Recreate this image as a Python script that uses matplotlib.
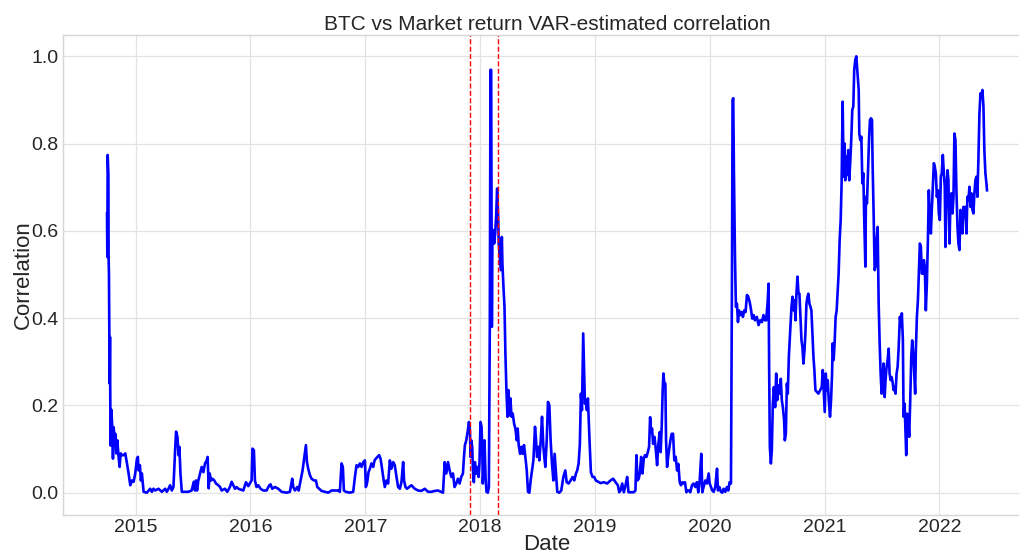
import matplotlib
matplotlib.use("Agg")
import matplotlib.pyplot as plt
import matplotlib.dates as mdates
import pandas as pd

# Data (date as decimal year, correlation value)
date_years = [
    2014.751, 2014.754, 2014.757, 2014.763, 2014.765, 2014.768, 2014.774, 2014.777, 2014.780, 2014.783,
    2014.789, 2014.797, 2014.803, 2014.809, 2014.818, 2014.823, 2014.832, 2014.841, 2014.852, 2014.861,
    2014.870, 2014.881, 2014.896, 2014.910, 2014.925, 2014.939, 2014.954, 2014.968, 2014.983, 2014.997,
    2015.012, 2015.020, 2015.026, 2015.038, 2015.046, 2015.055, 2015.070, 2015.098, 2015.127, 2015.142,
    2015.156, 2015.171, 2015.200, 2015.229, 2015.258, 2015.272, 2015.287, 2015.301, 2015.316, 2015.330,
    2015.345, 2015.353, 2015.365, 2015.374, 2015.382, 2015.391, 2015.403, 2015.432, 2015.460, 2015.489,
    2015.507, 2015.518, 2015.527, 2015.536, 2015.547, 2015.562, 2015.576, 2015.591, 2015.605, 2015.620,
    2015.628, 2015.637, 2015.646, 2015.657, 2015.669, 2015.686, 2015.701, 2015.721, 2015.736, 2015.750,
    2015.779, 2015.799, 2015.822, 2015.837, 2015.851, 2015.866, 2015.880, 2015.895,
    2015.939, 2015.962, 2015.982, 2016.011, 2016.019, 2016.031, 2016.040, 2016.054, 2016.069, 2016.089,
    2016.112, 2016.141, 2016.165, 2016.176, 2016.190, 2016.214, 2016.243, 2016.272, 2016.315, 2016.344,
    2016.364, 2016.373, 2016.388, 2016.408, 2016.420, 2016.437, 2016.454, 2016.469, 2016.483, 2016.492,
    2016.503, 2016.518, 2016.532, 2016.553, 2016.570, 2016.582, 2016.599, 2016.619, 2016.648, 2016.677,
    2016.706, 2016.735, 2016.764, 2016.778, 2016.793, 2016.804, 2016.813, 2016.830, 2016.865, 2016.894,
    2016.909, 2016.923, 2016.938, 2016.952, 2016.967, 2016.981, 2016.996, 2017.004, 2017.016, 2017.027,
    2017.039, 2017.053, 2017.068, 2017.080, 2017.091, 2017.106, 2017.120, 2017.132, 2017.143, 2017.155,
    2017.169, 2017.184, 2017.198, 2017.213, 2017.227, 2017.242, 2017.256, 2017.271, 2017.285, 2017.300,
    2017.314, 2017.329, 2017.337, 2017.349, 2017.363, 2017.381, 2017.401, 2017.430, 2017.459, 2017.488,
    2017.517, 2017.546, 2017.575, 2017.604, 2017.633,
    2017.676, 2017.691, 2017.705, 2017.720, 2017.734, 2017.749, 2017.763, 2017.777, 2017.792, 2017.806,
    2017.821, 2017.835, 2017.850, 2017.859, 2017.867, 2017.879, 2017.893, 2017.902, 2017.911, 2017.916,
    2017.922, 2017.931, 2017.937, 2017.945, 2017.954, 2017.966, 2017.974, 2017.986, 2017.994, 2018.003,
    2018.012, 2018.018, 2018.023, 2018.029, 2018.038, 2018.047, 2018.055, 2018.067, 2018.076, 2018.084,
    2018.090, 2018.096, 2018.102, 2018.107, 2018.113, 2018.122, 2018.131, 2018.139, 2018.148, 2018.157,
    2018.162, 2018.171, 2018.180, 2018.189, 2018.194, 2018.203, 2018.212, 2018.220, 2018.229, 2018.238,
    2018.247, 2018.255, 2018.264, 2018.273, 2018.284, 2018.296, 2018.307, 2018.319, 2018.327, 2018.336,
    2018.348, 2018.359, 2018.371, 2018.382, 2018.394, 2018.406, 2018.417, 2018.429, 2018.440, 2018.452,
    2018.464, 2018.478, 2018.487, 2018.496, 2018.507, 2018.516, 2018.528, 2018.539, 2018.551, 2018.559,
    2018.568, 2018.580, 2018.591, 2018.603, 2018.614, 2018.626, 2018.638, 2018.649, 2018.661, 2018.672,
    2018.690, 2018.707, 2018.725, 2018.742, 2018.754, 2018.771, 2018.788, 2018.806, 2018.820, 2018.835,
    2018.846, 2018.858, 2018.869, 2018.878, 2018.887, 2018.898, 2018.907, 2018.913, 2018.921, 2018.930,
    2018.939, 2018.944, 2018.953, 2018.965, 2018.979, 2018.994, 2019.008,
    2019.049, 2019.078, 2019.107, 2019.136, 2019.159, 2019.180, 2019.200, 2019.212, 2019.223, 2019.238,
    2019.252, 2019.267, 2019.281, 2019.293, 2019.310, 2019.339, 2019.353, 2019.362, 2019.371, 2019.382,
    2019.391, 2019.403, 2019.414, 2019.426, 2019.437, 2019.449, 2019.461, 2019.472, 2019.481, 2019.490,
    2019.498, 2019.507, 2019.519, 2019.530, 2019.542, 2019.553, 2019.565, 2019.573, 2019.582, 2019.591,
    2019.597, 2019.605, 2019.614, 2019.620, 2019.629, 2019.638, 2019.646, 2019.658, 2019.669, 2019.681,
    2019.692, 2019.704, 2019.716, 2019.727, 2019.739, 2019.750, 2019.762, 2019.773, 2019.785, 2019.797,
    2019.808, 2019.820, 2019.831, 2019.846, 2019.860, 2019.875, 2019.889, 2019.901, 2019.912, 2019.927,
    2019.936, 2019.947, 2019.962, 2019.976, 2019.991,
    2020.000, 2020.012, 2020.023, 2020.035, 2020.049, 2020.064, 2020.072, 2020.084, 2020.098, 2020.110,
    2020.121, 2020.136, 2020.150, 2020.162, 2020.173, 2020.185, 2020.194, 2020.199, 2020.205, 2020.211,
    2020.220, 2020.228, 2020.237, 2020.246, 2020.254, 2020.266, 2020.277, 2020.289, 2020.301, 2020.312,
    2020.324, 2020.335, 2020.347, 2020.358, 2020.370, 2020.382, 2020.393, 2020.410, 2020.425, 2020.439,
    2020.454, 2020.468, 2020.480, 2020.491, 2020.503, 2020.512, 2020.517, 2020.523, 2020.532, 2020.540,
    2020.549, 2020.558, 2020.569, 2020.578, 2020.587, 2020.595, 2020.607, 2020.618, 2020.627, 2020.636,
    2020.647, 2020.653, 2020.662, 2020.671, 2020.679, 2020.688, 2020.699, 2020.711, 2020.720, 2020.728,
    2020.737, 2020.746, 2020.754, 2020.763, 2020.772, 2020.780, 2020.789, 2020.798, 2020.806, 2020.815,
    2020.824, 2020.832, 2020.841, 2020.850, 2020.858, 2020.867, 2020.876, 2020.884, 2020.893, 2020.902,
    2020.910, 2020.919, 2020.931, 2020.945, 2020.960, 2020.974, 2020.983, 2020.991, 2021.000, 2021.009,
    2021.017, 2021.026, 2021.035, 2021.046, 2021.055, 2021.064, 2021.069, 2021.078, 2021.087, 2021.095,
    2021.104, 2021.113, 2021.121, 2021.130, 2021.139, 2021.147, 2021.156, 2021.165, 2021.173, 2021.179,
    2021.188, 2021.197, 2021.205, 2021.214, 2021.223, 2021.231, 2021.240, 2021.249, 2021.257, 2021.266,
    2021.275,
    2021.296, 2021.301, 2021.310, 2021.319, 2021.328, 2021.336, 2021.345, 2021.354, 2021.359, 2021.368,
    2021.377, 2021.386, 2021.394, 2021.403, 2021.412, 2021.417, 2021.426, 2021.435, 2021.443, 2021.452,
    2021.461, 2021.470, 2021.478, 2021.487, 2021.496, 2021.504, 2021.513, 2021.522, 2021.530, 2021.539,
    2021.548, 2021.557, 2021.565, 2021.574, 2021.583, 2021.591, 2021.600, 2021.609, 2021.617, 2021.626,
    2021.635, 2021.643, 2021.655, 2021.664, 2021.672, 2021.681, 2021.687, 2021.696, 2021.704, 2021.710,
    2021.719, 2021.728, 2021.736, 2021.745, 2021.754, 2021.762, 2021.771, 2021.780, 2021.788, 2021.794,
    2021.803, 2021.812, 2021.820, 2021.829, 2021.838, 2021.846, 2021.855, 2021.864, 2021.872, 2021.881,
    2021.890, 2021.899, 2021.907, 2021.916, 2021.925, 2021.933, 2021.942, 2021.951, 2021.959, 2021.968,
    2021.977, 2021.986, 2021.994, 2022.003, 2022.012, 2022.020, 2022.029, 2022.038, 2022.046, 2022.052,
    2022.061, 2022.070, 2022.078, 2022.087, 2022.096, 2022.104, 2022.113, 2022.122, 2022.130, 2022.139,
    2022.148, 2022.157, 2022.165, 2022.174, 2022.183, 2022.191, 2022.200, 2022.209, 2022.217, 2022.226,
    2022.235, 2022.243, 2022.252, 2022.261, 2022.270, 2022.278, 2022.287, 2022.296, 2022.304, 2022.313,
    2022.322, 2022.330, 2022.339, 2022.348, 2022.357, 2022.365, 2022.374, 2022.383, 2022.391, 2022.400,
    2022.409, 2022.414,
]

correlation = [
    0.640, 0.540, 0.774, 0.730, 0.540, 0.500, 0.250, 0.357, 0.196, 0.108,
    0.190, 0.150, 0.078, 0.150, 0.120, 0.135, 0.090, 0.120, 0.082, 0.059,
    0.090, 0.086, 0.086, 0.090, 0.067, 0.044, 0.017, 0.028, 0.025, 0.044,
    0.078, 0.082, 0.051, 0.063, 0.028, 0.044, 0.002, 0.000, 0.009, 0.002,
    0.009, 0.005, 0.009, 0.002, 0.009, 0.002, 0.009, 0.017, 0.005, 0.013,
    0.100, 0.140, 0.128, 0.086, 0.105, 0.044, 0.002, 0.002, 0.002, 0.005,
    0.025, 0.005, 0.028, 0.005, 0.028, 0.044, 0.059, 0.047, 0.067, 0.074,
    0.082, 0.010, 0.044, 0.028, 0.032, 0.028, 0.021, 0.017, 0.013, 0.005,
    0.009, 0.002, 0.013, 0.025, 0.017, 0.009, 0.013, 0.009,
    0.005, 0.024, 0.015, 0.028, 0.101, 0.097, 0.028, 0.013, 0.017, 0.009,
    0.005, 0.005, 0.017, 0.019, 0.009, 0.013, 0.009, 0.002, 0.000, 0.002,
    0.032, 0.013, 0.005, 0.013, 0.005, 0.028, 0.051, 0.082, 0.109, 0.070,
    0.055, 0.040, 0.032, 0.028, 0.028, 0.013, 0.009, 0.004, 0.002, 0.000,
    0.005, 0.005, 0.005, 0.002, 0.067, 0.059, 0.005, 0.002, 0.000, 0.002,
    0.036, 0.063, 0.059, 0.067, 0.059, 0.070, 0.074, 0.013, 0.024, 0.047,
    0.055, 0.067, 0.059, 0.074, 0.078, 0.082, 0.086, 0.078, 0.059, 0.036,
    0.013, 0.028, 0.021, 0.074, 0.055, 0.070, 0.063, 0.036, 0.013, 0.009,
    0.024, 0.070, 0.028, 0.013, 0.009, 0.013, 0.017, 0.009, 0.005, 0.004,
    0.009, 0.002, 0.002, 0.004, 0.005,
    0.000, 0.070, 0.044, 0.070, 0.051, 0.036, 0.044, 0.013, 0.021, 0.032,
    0.021, 0.036, 0.044, 0.082, 0.109, 0.120, 0.143, 0.162, 0.143, 0.082,
    0.120, 0.105, 0.051, 0.024, 0.070, 0.044, 0.059, 0.036, 0.067, 0.162,
    0.151, 0.105, 0.021, 0.051, 0.120, 0.036, 0.002, 0.000, 0.013, 0.380,
    0.969, 0.969, 0.380, 0.594, 0.602, 0.571, 0.594, 0.632, 0.697, 0.632,
    0.571, 0.541, 0.510, 0.586, 0.525, 0.472, 0.426, 0.319, 0.235, 0.174,
    0.235, 0.177, 0.216, 0.174, 0.181, 0.158, 0.147, 0.120, 0.147, 0.109,
    0.089, 0.105, 0.089, 0.109, 0.082, 0.051, 0.002, 0.000, 0.028, 0.051,
    0.074, 0.151, 0.120, 0.082, 0.105, 0.074, 0.120, 0.174, 0.105, 0.082,
    0.059, 0.120, 0.208, 0.200, 0.120, 0.067, 0.028, 0.089, 0.044, 0.002,
    0.000, 0.005, 0.036, 0.051, 0.024, 0.021, 0.028, 0.036, 0.028, 0.044,
    0.051, 0.067, 0.112, 0.227, 0.189, 0.365, 0.273, 0.204, 0.212, 0.189,
    0.216, 0.181, 0.120, 0.047, 0.036, 0.036, 0.028,
    0.022, 0.024, 0.021, 0.028, 0.032, 0.024, 0.017, 0.001, 0.005, 0.021,
    0.001, 0.017, 0.036, 0.001, 0.001, 0.001, 0.005, 0.086, 0.028, 0.032,
    0.044, 0.082, 0.044, 0.078, 0.086, 0.082, 0.093, 0.105, 0.173, 0.139,
    0.147, 0.112, 0.128, 0.101, 0.063, 0.112, 0.139, 0.093, 0.151, 0.238,
    0.273, 0.250, 0.250, 0.120, 0.059, 0.082, 0.097, 0.120, 0.135, 0.135,
    0.074, 0.082, 0.051, 0.066, 0.024, 0.017, 0.024, 0.021, 0.024, 0.001,
    0.005, 0.005, 0.001, 0.017, 0.021, 0.013, 0.024, 0.001, 0.024, 0.089,
    0.001, 0.013, 0.028, 0.021, 0.044,
    0.021, 0.013, 0.005, 0.002, 0.013, 0.055, 0.005, 0.013, 0.002, 0.000,
    0.009, 0.002, 0.013, 0.005, 0.024, 0.021, 0.502, 0.900, 0.904, 0.732,
    0.541, 0.426, 0.433, 0.391, 0.418, 0.407, 0.414, 0.403, 0.418, 0.414,
    0.453, 0.449, 0.438, 0.422, 0.399, 0.407, 0.395, 0.403, 0.384, 0.395,
    0.391, 0.407, 0.395, 0.395, 0.433, 0.479, 0.281, 0.105, 0.067, 0.097,
    0.204, 0.242, 0.196, 0.273, 0.212, 0.246, 0.227, 0.261, 0.212, 0.196,
    0.166, 0.120, 0.135, 0.250, 0.227, 0.311, 0.365, 0.426, 0.449, 0.418,
    0.441, 0.395, 0.456, 0.495, 0.456, 0.456, 0.403, 0.349, 0.334, 0.296,
    0.326, 0.365, 0.433, 0.449, 0.456, 0.433, 0.426, 0.418, 0.365, 0.311,
    0.281, 0.235, 0.231, 0.227, 0.235, 0.242, 0.281, 0.235, 0.185, 0.273,
    0.235, 0.258, 0.212, 0.174, 0.212, 0.273, 0.342, 0.304, 0.349, 0.403,
    0.418, 0.464, 0.502, 0.579, 0.625, 0.709, 0.896, 0.724, 0.800, 0.716,
    0.770, 0.728, 0.785, 0.716, 0.762, 0.808, 0.877, 0.885, 0.969, 0.992,
    1.000,
    0.923, 0.823, 0.808, 0.816, 0.709, 0.732, 0.617, 0.518, 0.678, 0.663,
    0.732, 0.808, 0.854, 0.858, 0.854, 0.755, 0.640, 0.510, 0.518, 0.579,
    0.609, 0.433, 0.349, 0.273, 0.227, 0.265, 0.296, 0.219, 0.258, 0.288,
    0.304, 0.330, 0.273, 0.258, 0.265, 0.254, 0.235, 0.242, 0.227, 0.273,
    0.288, 0.326, 0.403, 0.380, 0.411, 0.349, 0.174, 0.204, 0.135, 0.086,
    0.181, 0.166, 0.128, 0.212, 0.311, 0.349, 0.319, 0.273, 0.227, 0.326,
    0.403, 0.441, 0.502, 0.571, 0.563, 0.502, 0.502, 0.533, 0.518, 0.418,
    0.479, 0.579, 0.693, 0.625, 0.594, 0.648, 0.701, 0.755, 0.747, 0.732,
    0.678, 0.693, 0.640, 0.625, 0.724, 0.732, 0.774, 0.732, 0.701, 0.563,
    0.693, 0.739, 0.716, 0.571, 0.670, 0.686, 0.640, 0.678, 0.823, 0.808,
    0.686, 0.609, 0.571, 0.556, 0.648, 0.609, 0.594, 0.655, 0.632, 0.655,
    0.594, 0.678, 0.670, 0.701, 0.655, 0.686, 0.648, 0.640, 0.686, 0.716,
    0.724, 0.678, 0.762, 0.869, 0.915, 0.907, 0.923, 0.885, 0.785, 0.732,
    0.709, 0.693,
]

event_dates = ["2017-12-01", "2018-02-28"]


def year_to_date(y):
    yr = int(y)
    start = pd.Timestamp(yr, 1, 1)
    end = pd.Timestamp(yr + 1, 1, 1)
    return start + (end - start) * (y - yr)


dates = [year_to_date(y) for y in date_years]

plt.rcParams["font.family"] = ["Liberation Sans", "DejaVu Sans"]
plt.rcParams["text.color"] = "#262626"
plt.rcParams["xtick.color"] = "#262626"
plt.rcParams["ytick.color"] = "#262626"
plt.rcParams["axes.labelcolor"] = "#262626"

fig = plt.figure(figsize=(10.19, 5.54), dpi=100)
# axes run a little past the right edge of the figure, as in the reference
ax = fig.add_axes([63 / 1019, 39.5 / 554, 968 / 1019, 480 / 554])

ax.plot(dates, correlation, color="blue", linewidth=1.9)
for d in event_dates:
    ax.axvline(pd.Timestamp(d), color="red", linestyle="--", linewidth=1.0)

ax.set_ylim(-0.05, 1.05)
ax.xaxis.set_major_locator(mdates.YearLocator())
ax.xaxis.set_major_formatter(mdates.DateFormatter("%Y"))

ax.grid(True, color="#e3e3e3", linewidth=0.9)
ax.set_axisbelow(True)
for s in ax.spines.values():
    s.set_color("#d6d6d6")
    s.set_linewidth(1.0)
ax.tick_params(axis="both", length=0, labelsize=14, pad=3)

ax.set_title("BTC vs Market return VAR-estimated correlation", fontsize=15, pad=3)
ax.set_xlabel("Date", fontsize=16, labelpad=-1.5)
ax.set_ylabel("Correlation", fontsize=16, labelpad=-1.5)

fig.savefig("out.png", dpi=100)
plt.close(fig)
